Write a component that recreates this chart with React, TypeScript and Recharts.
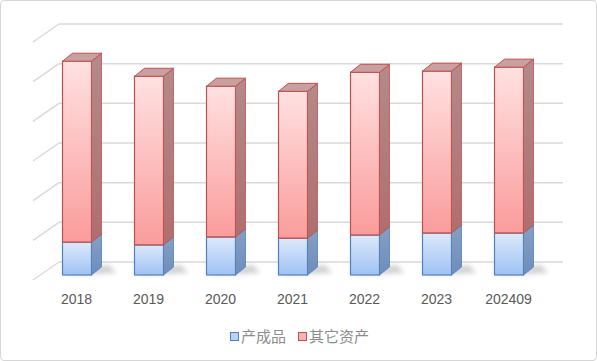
import React from 'react';
import { BarChart, Bar, XAxis, YAxis, CartesianGrid } from 'recharts';

const years = ['2018', '2019', '2020', '2021', '2022', '2023', '202409'];
const finishedGoods = [0.83, 0.76, 0.96, 0.93, 1.01, 1.06, 1.06];
const otherAssets = [4.56, 4.25, 3.8, 3.7, 4.1, 4.08, 4.18];
const yTicks = [0, 1, 2, 3, 4, 5, 6];

const data = years.map((year, i) => ({
  year,
  goods: finishedGoods[i],
  other: otherAssets[i],
}));

// 3D depth of the bars
const BDX = 10;
const BDY = 8;

function Box(props: any) {
  const { x, y, width, height, front, side, top, stroke, shadow } = props;
  if (!height || height <= 0) return null;
  const r = x + width;
  const b = y + height;
  return (
    <g>
      {shadow && (
        <polygon
          points={`${x + 4},${b} ${r + BDX + 14},${b - 2} ${r + BDX + 8},${b - BDY - 2} ${x + 10},${b - BDY + 2}`}
          fill="#9a9a9a"
          opacity={0.45}
          filter="url(#soft)"
        />
      )}
      <rect x={x} y={y} width={width} height={height} fill={front} stroke={stroke} strokeWidth={1.2} />
      <polygon
        points={`${r},${y} ${r + BDX},${y - BDY} ${r + BDX},${b - BDY} ${r},${b}`}
        fill={side}
        stroke={stroke}
        strokeWidth={0.8}
      />
      <polygon
        points={`${x},${y} ${x + BDX},${y - BDY} ${r + BDX},${y - BDY} ${r},${y}`}
        fill={top}
        stroke={stroke}
        strokeWidth={1}
      />
    </g>
  );
}

// back wall gridline plus the slanted line on the side wall
function WallLine(props: any) {
  const { x1, x2, y1 } = props;
  return (
    <g key={props.key}>
      <line x1={x1 + 18.5} x2={x2 + 18.5} y1={y1 - 13} y2={y1 - 13} stroke="#d9d9d9" strokeWidth={1.5} />
      <line x1={x1 - 7.5} x2={x1 + 18.5} y1={y1 + 5} y2={y1 - 13} stroke="#d9d9d9" strokeWidth={1.5} />
    </g>
  );
}

function LegendBox() {
  const items = [
    { name: '产成品', fill: '#b9d1f5', stroke: '#4f81bd' },
    { name: '其它资产', fill: '#f7b3b3', stroke: '#c0504d' },
  ];
  return (
    <div
      style={{
        position: 'absolute',
        left: 0,
        top: 324,
        width: 597,
        display: 'flex',
        justifyContent: 'center',
        gap: 12,
        fontFamily: '"Noto Sans CJK SC"',
        fontSize: 15,
        lineHeight: '22px',
        color: '#8c8c8c',
      }}
    >
      {items.map((it) => (
        <div key={it.name} style={{ display: 'flex', alignItems: 'center' }}>
          <span style={{ width: 7, height: 7, background: it.fill, border: `1px solid ${it.stroke}`, marginRight: 2 }} />
          <span>{it.name}</span>
        </div>
      ))}
    </div>
  );
}

export default function App() {
  return (
    <div
      style={{
        position: 'absolute',
        left: 0,
        top: 0,
        width: 597,
        height: 361,
        boxSizing: 'border-box',
        border: '1.5px solid #d6d6d6',
        borderRadius: 4,
        background: '#fff',
      }}
    >
      <div style={{ position: 'absolute', left: -1.5, top: -1.5 }}>
        <BarChart width={597} height={361} data={data} margin={{ top: 37, right: 52.5, bottom: 56, left: 40.5 }} barSize={29}>
          <defs>
            <linearGradient id="redFront" x1="0" y1="0" x2="0" y2="1">
              <stop offset="0%" stopColor="#ffe1e1" />
              <stop offset="100%" stopColor="#fa9c9c" />
            </linearGradient>
            <linearGradient id="blueFront" x1="0" y1="0" x2="0" y2="1">
              <stop offset="0%" stopColor="#dde9fb" />
              <stop offset="100%" stopColor="#9fc2f4" />
            </linearGradient>
            <linearGradient id="redSide" x1="0" y1="0" x2="0" y2="1">
              <stop offset="0%" stopColor="#b48a8a" />
              <stop offset="100%" stopColor="#b06e6e" />
            </linearGradient>
            <linearGradient id="blueSide" x1="0" y1="0" x2="0" y2="1">
              <stop offset="0%" stopColor="#869fc4" />
              <stop offset="100%" stopColor="#6f8dbb" />
            </linearGradient>
            <filter id="soft" x="-50%" y="-50%" width="200%" height="200%">
              <feGaussianBlur stdDeviation="2.5" />
            </filter>
          </defs>
          <CartesianGrid vertical={false} horizontal={(p: any) => <WallLine {...p} />} />
          <XAxis
            dataKey="year"
            axisLine={false}
            tickLine={false}
            tickSize={0}
            tickMargin={19}
            height={30}
            tick={{ fill: '#595959', fontSize: 14, fontFamily: '"Liberation Sans", sans-serif' }}
            interval={0}
          />
          <YAxis hide domain={[0, 6]} ticks={yTicks} />
          <Bar
            dataKey="goods"
            name="产成品"
            stackId="a"
            isAnimationActive={false}
            shape={(p: any) => (
              <Box {...p} front="url(#blueFront)" side="url(#blueSide)" top="#a9bde0" stroke="#4f81bd" shadow />
            )}
          />
          <Bar
            dataKey="other"
            name="其它资产"
            stackId="a"
            isAnimationActive={false}
            shape={(p: any) => (
              <Box {...p} front="url(#redFront)" side="url(#redSide)" top="#c9a0a0" stroke="#c0504d" />
            )}
          />
        </BarChart>
      </div>
      <LegendBox />
    </div>
  );
}
